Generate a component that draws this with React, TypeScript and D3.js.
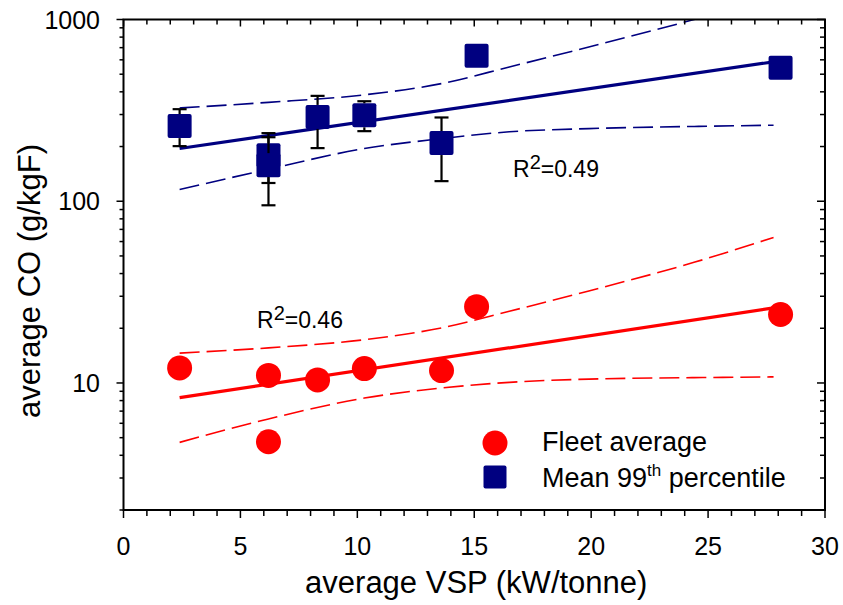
import React from 'react';
import * as d3 from 'd3';

// Fleet average (red circles)
const fleetVsp = [2.4, 6.2, 6.2, 8.3, 10.3, 13.6, 15.1, 28.1];
const fleetCo = [12.1, 11.0, 4.75, 10.4, 12.0, 11.7, 26.3, 23.8];

// Mean 99th percentile (navy squares) with error bars
const pctVsp = [2.4, 6.2, 6.2, 8.3, 10.3, 13.6, 15.1, 28.1];
const pctCo = [259, 179, 158, 291, 297, 209, 631, 543];
const pctLo = [201, 126, 95, 196, 243, 129, null, null];
const pctHi = [321, 237, 225, 380, 355, 289, null, null];

// regression lines (log-linear) and confidence bands
const fitVsp = [2.4, 27.8];
const fleetFit = [8.3, 25.9];
const pctFit = [195, 585];

const bandVsp = [2.4, 6.2, 10.3, 13.6, 16.5, 19.9, 24.4, 27.8];
const pctUpper = [326, 350, 385, 444, 548, 706, 1000, 1330];
const pctLower = [116, 150, 195, 221, 241, 251, 258, 262];
const fleetUpper = [14.6, 15.6, 17.3, 20.1, 24.8, 32.1, 46.1, 63.2];
const fleetLower = [4.71, 6.34, 8.26, 9.38, 10.08, 10.5, 10.7, 10.8];

const xTicks = [0, 5, 10, 15, 20, 25, 30];
const yTickLabels = [10, 100, 1000];

const W = 843;
const H = 605;
const left = 123.5;
const right = 825;
const top = 19.5;
const bottom = 510;

const RED = '#ff0000';
const NAVY = '#000080';
const FONT = 'Arial, "Liberation Sans", sans-serif';

const App: React.FC = () => {
  const x = d3.scaleLinear().domain([0, 30]).range([left, right]);
  const y = d3.scaleLog().domain([2, 1000]).range([bottom, top]);

  const line = d3
    .line<[number, number]>()
    .x(d => x(d[0]))
    .y(d => y(d[1]))
    .curve(d3.curveMonotoneX);

  const zip = (xs: number[], ys: number[]) => xs.map((v, i) => [v, ys[i]] as [number, number]);

  // minor ticks
  const xMinor = d3.range(0, 31, 1).filter(v => v % 5 !== 0);
  const yMinor: number[] = [];
  [1, 10, 100].forEach(dec => {
    for (let k = 2; k <= 9; k++) {
      const v = k * dec;
      if (v >= 2 && v < 1000) yMinor.push(v);
    }
  });

  const sq = 24;
  const cap = 7;

  return (
    <div style={{ position: 'absolute', left: 0, top: 0 }}>
      <svg width={W} height={H} style={{ display: 'block', fontFamily: FONT }}>
        <defs>
          <clipPath id="plot">
            <rect x={left} y={top} width={right - left} height={bottom - top} />
          </clipPath>
        </defs>
        <rect width={W} height={H} fill="#fff" />

        {/* confidence bands */}
        <g clipPath="url(#plot)" fill="none" strokeWidth={1.6} strokeDasharray="20,7">
          <path d={line(zip(bandVsp, pctUpper)) || ''} stroke={NAVY} />
          <path d={line(zip(bandVsp, pctLower)) || ''} stroke={NAVY} />
          <path d={line(zip(bandVsp, fleetUpper)) || ''} stroke={RED} />
          <path d={line(zip(bandVsp, fleetLower)) || ''} stroke={RED} />
        </g>

        {/* fit lines */}
        <path d={line(zip(fitVsp, pctFit)) || ''} stroke={NAVY} strokeWidth={3.2} fill="none" />
        <path d={line(zip(fitVsp, fleetFit)) || ''} stroke={RED} strokeWidth={3.2} fill="none" />

        {/* fleet average circles */}
        {fleetVsp.map((v, i) => (
          <circle key={'c' + i} cx={x(v)} cy={y(fleetCo[i])} r={12.5} fill={RED} />
        ))}

        {/* 99th percentile squares with error bars */}
        {pctVsp.map((v, i) => {
          const cx = x(v);
          const cy = y(pctCo[i]);
          const lo = pctLo[i];
          const hi = pctHi[i];
          return (
            <g key={'s' + i}>
              <rect x={cx - sq / 2} y={cy - sq / 2} width={sq} height={sq} rx={2} fill={NAVY} />
              {hi != null && lo != null && (
                <g stroke="#000" strokeWidth={2.2}>
                  <line x1={cx} x2={cx} y1={y(hi)} y2={Math.max(cy - sq / 2, y(hi))} />
                  <line x1={cx - cap} x2={cx + cap} y1={y(hi)} y2={y(hi)} />
                  <line x1={cx} x2={cx} y1={Math.min(cy + sq / 2, y(lo))} y2={y(lo)} />
                  <line x1={cx - cap} x2={cx + cap} y1={y(lo)} y2={y(lo)} />
                </g>
              )}
            </g>
          );
        })}

        {/* frame */}
        <rect x={left} y={top} width={right - left} height={bottom - top} fill="none" stroke="#000" strokeWidth={2} />

        {/* ticks */}
        <g stroke="#000" strokeWidth={1.5}>
          {xTicks.map(t => (
            <g key={'xt' + t}>
              <line x1={x(t)} x2={x(t)} y1={bottom} y2={bottom + 8} />
              <line x1={x(t)} x2={x(t)} y1={top} y2={top + 7} />
            </g>
          ))}
          {xMinor.map(t => (
            <g key={'xm' + t}>
              <line x1={x(t)} x2={x(t)} y1={bottom} y2={bottom + 6} />
              <line x1={x(t)} x2={x(t)} y1={top} y2={top + 5} />
            </g>
          ))}
          {yTickLabels.map(t => (
            <g key={'yt' + t}>
              <line x1={left - 7} x2={left} y1={y(t)} y2={y(t)} />
              <line x1={right - 8} x2={right} y1={y(t)} y2={y(t)} />
            </g>
          ))}
          {yMinor.map(t => (
            <g key={'ym' + t}>
              <line x1={left - 4} x2={left} y1={y(t)} y2={y(t)} />
              <line x1={right - 5} x2={right} y1={y(t)} y2={y(t)} />
            </g>
          ))}
        </g>

        {/* tick labels */}
        {xTicks.map(t => (
          <text key={'xl' + t} x={x(t)} y={bottom + 45} fontSize={25} textAnchor="middle" fill="#000">
            {t}
          </text>
        ))}
        {yTickLabels.map(t => (
          <text key={'yl' + t} x={100} y={y(t)} dy="0.36em" fontSize={25} textAnchor="end" fill="#000">
            {t}
          </text>
        ))}

        {/* axis titles */}
        <text x={(left + right) / 2 + 2} y={593} fontSize={31} textAnchor="middle" fill="#000">
          average VSP (kW/tonne)
        </text>
        <text transform={`translate(40,281) rotate(-90)`} fontSize={31} textAnchor="middle" fill="#000">
          average CO (g/kgF)
        </text>

        {/* R² annotations */}
        <text x={513} y={177} fontSize={23} fill="#000">
          R<tspan dy={-8} fontSize={20}>2</tspan>
          <tspan dy={8}>=0.49</tspan>
        </text>
        <text x={257} y={328} fontSize={23} fill="#000">
          R<tspan dy={-8} fontSize={20}>2</tspan>
          <tspan dy={8}>=0.46</tspan>
        </text>

        {/* legend */}
        <circle cx={495} cy={443} r={12.5} fill={RED} />
        <rect x={495 - 11.5} y={477 - 11.5} width={23} height={23} rx={2} fill={NAVY} />
        <text x={542} y={451} fontSize={27} fill="#000">
          Fleet average
        </text>
        <text x={542} y={487} fontSize={27} fill="#000">
          Mean 99<tspan dy={-11} fontSize={17}>th</tspan>
          <tspan dy={11}> percentile</tspan>
        </text>
      </svg>
    </div>
  );
};

export default App;
